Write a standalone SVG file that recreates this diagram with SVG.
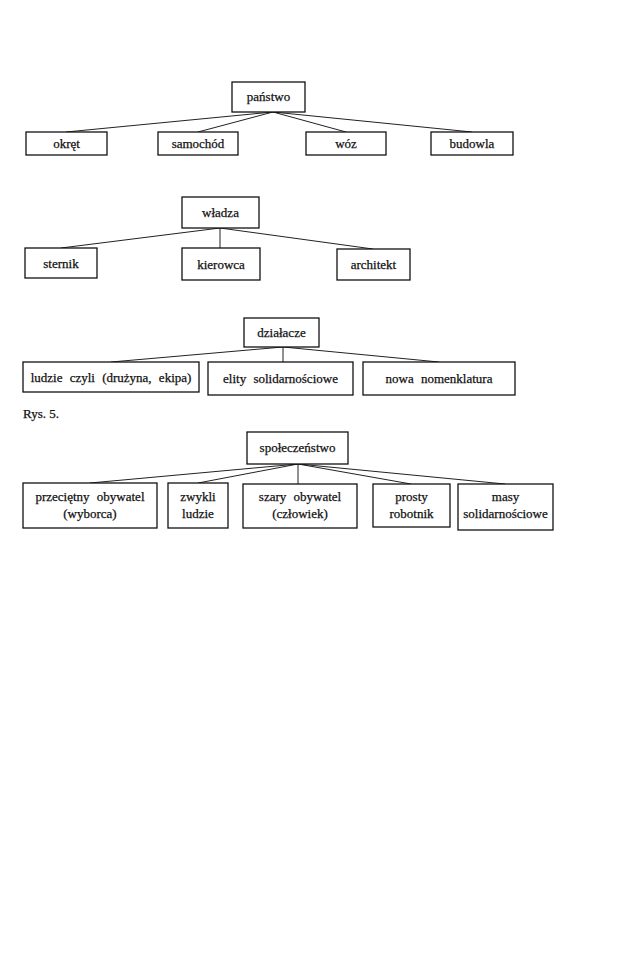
<svg xmlns="http://www.w3.org/2000/svg" width="637" height="966" viewBox="0 0 637 966">
<style>
.box{fill:#fff;stroke:#111;stroke-width:1.3}
.t{font-family:"Liberation Serif","Times New Roman",serif;font-size:13px;fill:#111;stroke:#111;stroke-width:0.25;text-anchor:middle}
.ws{word-spacing:4px}
.c{stroke:#222;stroke-width:1;fill:none}
</style>
<rect width="637" height="966" fill="#fff"/>
<g id="connectors">
<path class="c" d="M273 112 L66 132 M273 112 L198 132 M273 112 L346 132 M273 112 L472 132"/>
<path class="c" d="M220 228 L61 248 M220 228 L220 248 M220 228 L373 249"/>
<path class="c" d="M283 347 L111 362 M283 347 L283 362 M283 347 L439 362"/>
<path class="c" d="M298 464 L90 483 M298 464 L198 483 M298 464 L298 484 M298 464 L411 484 M298 464 L505 484"/>
</g>
<g id="panstwo"><rect class="box" x="232" y="82" width="73" height="30"/><text class="t" x="268.5" y="101">państwo</text></g>
<g id="okret"><rect class="box" x="26" y="132" width="81" height="23"/><text class="t" x="66.5" y="148">okręt</text></g>
<g id="samochod"><rect class="box" x="158" y="132" width="80" height="23"/><text class="t" x="198" y="148">samochód</text></g>
<g id="woz"><rect class="box" x="306" y="132" width="80" height="23"/><text class="t" x="346" y="148">wóz</text></g>
<g id="budowla"><rect class="box" x="431" y="132" width="82" height="23"/><text class="t" x="472" y="148">budowla</text></g>

<g id="wladza"><rect class="box" x="182" y="197" width="77" height="31"/><text class="t" x="220.5" y="217">władza</text></g>
<g id="sternik"><rect class="box" x="25" y="248" width="72" height="30"/><text class="t" x="61" y="268">sternik</text></g>
<g id="kierowca"><rect class="box" x="182" y="248" width="78" height="32"/><text class="t" x="221" y="269">kierowca</text></g>
<g id="architekt"><rect class="box" x="337" y="249" width="73" height="31"/><text class="t" x="373.5" y="269">architekt</text></g>

<g id="dzialacze"><rect class="box" x="244" y="318" width="75" height="29"/><text class="t" x="281.5" y="337">działacze</text></g>
<g id="ludzie"><rect class="box" x="23" y="362" width="176" height="30"/><text class="t ws" x="111" y="382">ludzie czyli (drużyna, ekipa)</text></g>
<g id="elity"><rect class="box" x="208" y="362" width="145" height="33"/><text class="t ws" x="280.5" y="383">elity solidarnościowe</text></g>
<g id="nowa"><rect class="box" x="363" y="362" width="152" height="33"/><text class="t ws" x="439" y="383">nowa nomenklatura</text></g>

<text class="t" x="23" y="418" style="text-anchor:start">Rys. 5.</text>

<g id="spoleczenstwo"><rect class="box" x="247" y="432" width="101" height="32"/><text class="t" x="297.5" y="452">społeczeństwo</text></g>
<g id="przecietny"><rect class="box" x="23" y="483" width="134" height="45"/><text class="t ws" x="90" y="501">przeciętny obywatel</text><text class="t" x="90" y="518">(wyborca)</text></g>
<g id="zwykli"><rect class="box" x="168" y="483" width="60" height="45"/><text class="t" x="198" y="501">zwykli</text><text class="t" x="198" y="518">ludzie</text></g>
<g id="szary"><rect class="box" x="243" y="484" width="114" height="44"/><text class="t ws" x="300" y="501">szary obywatel</text><text class="t" x="300" y="518">(człowiek)</text></g>
<g id="prosty"><rect class="box" x="373" y="484" width="77" height="43"/><text class="t" x="411.5" y="501">prosty</text><text class="t" x="411.5" y="518">robotnik</text></g>
<g id="masy"><rect class="box" x="458" y="484" width="95" height="46"/><text class="t" x="505.5" y="501">masy</text><text class="t" x="505.5" y="518">solidarnościowe</text></g>
</svg>
